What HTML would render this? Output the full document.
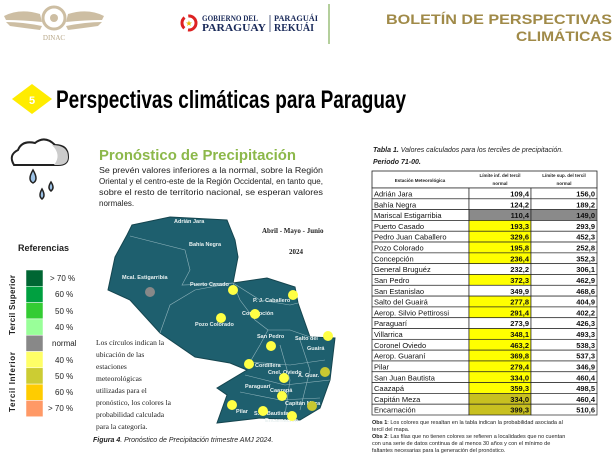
<!DOCTYPE html>
<html><head><meta charset="utf-8"><style>
html,body{margin:0;padding:0;background:#fff;}
svg{display:block;font-family:"Liberation Sans",sans-serif;}
</style></head><body>
<svg width="616" height="458" viewBox="0 0 616 458" xmlns="http://www.w3.org/2000/svg">
<rect width="616" height="458" fill="#fff"/>
<g fill="#c8b89a" opacity="0.9">
<path d="M4 16 Q20 8 40 14 L42 22 Q22 20 6 20 Z"/>
<path d="M6 22 Q22 22 42 26 L40 30 Q24 28 10 26 Z"/>
<path d="M104 16 Q88 8 68 14 L66 22 Q86 20 102 20 Z"/>
<path d="M102 22 Q86 22 66 26 L68 30 Q84 28 98 26 Z"/>
<circle cx="54" cy="18" r="11" fill="none" stroke="#c8b89a" stroke-width="3"/>
<circle cx="54" cy="18" r="4"/>
</g>
<text x="54" y="40" font-family="Liberation Serif" font-size="7" fill="#b8a88a" text-anchor="middle">DINAC</text>
<circle cx="189" cy="23" r="7" fill="none" stroke="#d22" stroke-width="3" stroke-dasharray="12 4"/>
<text x="189" y="26" font-size="8" fill="#e6b800" text-anchor="middle">★</text>
<text x="202" y="21" font-family="Liberation Serif" font-weight="bold" font-size="8" fill="#1a2a5a" textLength="56" lengthAdjust="spacingAndGlyphs">GOBIERNO DEL</text>
<text x="202" y="31" font-family="Liberation Serif" font-weight="bold" font-size="10" fill="#1a2a5a" textLength="64" lengthAdjust="spacingAndGlyphs">PARAGUAY</text>
<line x1="270" y1="15" x2="270" y2="32" stroke="#1a2a5a" stroke-width="0.7"/>
<text x="274" y="21" font-family="Liberation Serif" font-weight="bold" font-size="8" fill="#1a2a5a" textLength="44" lengthAdjust="spacingAndGlyphs">PARAGUÁI</text>
<text x="274" y="31" font-family="Liberation Serif" font-weight="bold" font-size="10" fill="#1a2a5a" textLength="40" lengthAdjust="spacingAndGlyphs">REKUÁI</text>
<line x1="329" y1="4" x2="329" y2="44" stroke="#9bbf7a" stroke-width="1.5"/>
<text x="612" y="24" font-weight="bold" font-size="14" fill="#a08a48" text-anchor="end" textLength="226" lengthAdjust="spacingAndGlyphs">BOLETÍN DE PERSPECTIVAS</text>
<text x="612" y="41" font-weight="bold" font-size="14" fill="#a08a48" text-anchor="end" textLength="96" lengthAdjust="spacingAndGlyphs">CLIMÁTICAS</text>
<polygon points="12,99 32,84 52,99 32,114" fill="#ffec00"/>
<text x="32" y="104" font-weight="bold" font-size="11" fill="#fff" text-anchor="middle">5</text>
<text x="56" y="108" font-weight="bold" font-size="25" fill="#000" textLength="350" lengthAdjust="spacingAndGlyphs">Perspectivas climáticas para Paraguay</text>
<g>
<path d="M14 165 Q8 155 18 150 Q22 140 35 143 Q45 135 55 145 Q68 145 68 157 Q68 165 58 165 Z" fill="#fff" stroke="#222" stroke-width="2"/>
<path d="M52 145 Q68 145 68 157 Q68 165 58 165 L54 165 Q62 155 52 145Z" fill="#ccc"/>
<path d="M33 170 Q27 180 33 183 Q39 180 33 170Z" fill="#9cc2e6" stroke="#222" stroke-width="1.5"/>
<path d="M51 182 Q47 188 51 191 Q55 188 51 182Z" fill="#9cc2e6" stroke="#222" stroke-width="1.5"/>
<path d="M42 189 Q38 196 42 199 Q46 196 42 189Z" fill="#9cc2e6" stroke="#222" stroke-width="1.5"/>
</g>
<text x="99" y="160" font-weight="bold" font-size="15" fill="#8cb84a" textLength="197" lengthAdjust="spacingAndGlyphs">Pronóstico de Precipitación</text>
<g font-size="8" fill="#222">
<text x="99" y="173" textLength="224" lengthAdjust="spacingAndGlyphs">Se prevén valores inferiores a la normal, sobre la Región</text>
<text x="99" y="184" textLength="224" lengthAdjust="spacingAndGlyphs">Oriental y el centro-este de la Región Occidental, en tanto que,</text>
<text x="99" y="195" textLength="224" lengthAdjust="spacingAndGlyphs">sobre el resto de territorio nacional, se esperan valores</text>
<text x="99" y="206">normales.</text>
</g>
<text x="18" y="251" font-weight="bold" font-size="9" fill="#222">Referencias</text>
<g stroke="#fff" stroke-width="0.5">
<rect x="26" y="270" width="17" height="16.3" fill="#006633"/>
<rect x="26" y="286.3" width="17" height="16.3" fill="#00a040"/>
<rect x="26" y="302.6" width="17" height="16.3" fill="#33cc33"/>
<rect x="26" y="318.9" width="17" height="16.3" fill="#99ff99"/>
<rect x="26" y="335.2" width="17" height="16.3" fill="#888888"/>
<rect x="26" y="351.5" width="17" height="16.3" fill="#ffff66"/>
<rect x="26" y="367.8" width="17" height="16.3" fill="#cccc33"/>
<rect x="26" y="384.1" width="17" height="16.3" fill="#ffcc00"/>
<rect x="26" y="400.4" width="17" height="16.3" fill="#ff9966"/>
</g>
<g font-size="8" fill="#222">
<text x="50" y="281">&gt; 70 %</text><text x="55" y="297">60 %</text><text x="55" y="314">50 %</text><text x="55" y="330">40 %</text>
<text x="52" y="346">normal</text><text x="55" y="363">40 %</text><text x="55" y="379">50 %</text><text x="55" y="395">60 %</text><text x="48" y="411">&gt; 70 %</text>
</g>
<text transform="translate(15,335) rotate(-90)" font-weight="bold" font-size="8" fill="#222" textLength="60">Tercil Superior</text>
<text transform="translate(15,412) rotate(-90)" font-weight="bold" font-size="8" fill="#222" textLength="60">Tercil Inferior</text>
<polygon points="132,225 170,217 227,220 235,240 238,257 233,283 267,278 295,287 298,303 310,337 335,338 330,380 320,408 300,420 260,418 217,423 227,395 217,388 247,370 230,363 195,357 160,333 130,300 108,290 115,257 127,235" fill="#1e5f6e" stroke="#15454f" stroke-width="1"/>
<g stroke="#8fb3bb" stroke-width="0.6" fill="none">
<path d="M130 236 L185 250 L190 270 L182 285 L233 283"/>
<path d="M160 333 L170 305 L195 290 L233 283 L240 300 L255 320 L268 330 L260 345 L250 362"/>
<path d="M233 283 L260 300 L290 305 L298 303"/>
<path d="M268 330 L290 330 L310 337"/><path d="M250 362 L290 365 L325 360"/>
<path d="M245 375 L285 385 L330 380"/><path d="M240 392 L280 400 L320 398"/>
<path d="M280 345 L290 380 L285 415"/><path d="M300 340 L310 370 L300 410"/>
</g>
<g font-size="5.5" font-weight="bold" fill="#e8f0f0">
<text x="174" y="223">Adrián Jara</text><text x="189" y="246">Bahía Negra</text>
<text x="122" y="279">Mcal. Estigarribia</text><text x="190" y="286">Puerto Casado</text>
<text x="253" y="302">P. J. Caballero</text><text x="242" y="315">Concepción</text>
<text x="195" y="326">Pozo Colorado</text><text x="257" y="338">San Pedro</text>
<text x="295" y="340">Salto del</text><text x="307" y="350">Guairá</text>
<text x="255" y="367">Cordillera</text><text x="268" y="374">Cnel. Oviedo</text>
<text x="298" y="377">A. Guar.</text><text x="245" y="388">Paraguarí</text>
<text x="270" y="392">Caazapá</text><text x="285" y="405">Capitán Meza</text>
<text x="236" y="413">Pilar</text><text x="254" y="415">S. J. Bautista</text><text x="265" y="422">Encarnación</text>
</g>
<g fill="#ffff44">
<circle cx="150" cy="292" r="5" fill="#888"/>
<circle cx="233" cy="290" r="5"/><circle cx="293" cy="295" r="5"/><circle cx="255" cy="314" r="5"/>
<circle cx="221" cy="318" r="5"/><circle cx="328" cy="336" r="5"/><circle cx="271" cy="346" r="5"/>
<circle cx="249" cy="364" r="5"/><circle cx="325" cy="372" r="5" fill="#c8c832"/><circle cx="284" cy="378" r="5"/>
<circle cx="282" cy="396" r="5"/><circle cx="312" cy="406" r="5" fill="#c8c832"/><circle cx="232" cy="405" r="5"/>
<circle cx="263" cy="411" r="5"/><circle cx="292" cy="416" r="5"/>
</g>
<g font-family="Liberation Serif" font-weight="bold" font-size="7" fill="#222">
<text x="262" y="233">Abril  - Mayo - Junio</text><text x="289" y="254">2024</text>
</g>
<g font-family="Liberation Serif" font-size="7.5" fill="#222">
<text x="96" y="345">Los círculos indican la</text><text x="96" y="357">ubicación de las</text>
<text x="96" y="369">estaciones</text><text x="96" y="381">meteorológicas</text>
<text x="96" y="393">utilizadas para el</text><text x="96" y="405">pronóstico, los colores la</text>
<text x="96" y="417">probabilidad calculada</text><text x="96" y="429">para la categoría.</text>
</g>
<text x="93" y="442" font-size="7" font-style="italic" fill="#222"><tspan font-weight="bold">Figura 4</tspan>. Pronóstico de Precipitación trimestre AMJ 2024.</text>
<text x="373" y="152" font-size="7" font-style="italic" fill="#222"><tspan font-weight="bold">Tabla 1.</tspan> Valores calculados para los terciles de precipitación.</text>
<text x="373" y="164" font-size="7" font-style="italic" font-weight="bold" fill="#222">Periodo 71-00.</text>
<rect x="372" y="171" width="225" height="17" fill="#fff" stroke="#222" stroke-width="0.8"/>
<text x="420" y="182" font-size="4.5" font-weight="bold" text-anchor="middle" fill="#222">Estación Meteorológica</text>
<text x="500" y="177" font-size="4.5" font-weight="bold" text-anchor="middle" fill="#222">Límite inf. del tercil</text>
<text x="500" y="185" font-size="4.5" font-weight="bold" text-anchor="middle" fill="#222">normal</text>
<text x="564" y="177" font-size="4.5" font-weight="bold" text-anchor="middle" fill="#222">Límite sup. del tercil</text>
<text x="564" y="185" font-size="4.5" font-weight="bold" text-anchor="middle" fill="#222">normal</text>
<g id="rows" font-size="7.5" fill="#111"></g>
<g font-size="5.5" fill="#222">
<text x="372" y="424"><tspan font-weight="bold">Obs 1</tspan>: Los colores que resaltan en la tabla indican la probabilidad asociada al</text>
<text x="372" y="431">tercil del mapa.</text>
<text x="372" y="438"><tspan font-weight="bold">Obs 2</tspan>: Las filas que no tienen colores se refieren a localidades que no cuentan</text>
<text x="372" y="445">con una serie de datos continua de al menos 30 años y con el mínimo de</text>
<text x="372" y="452">faltantes necesarias para la generación del pronóstico.</text>
</g>
</svg>
<script>
var d=[["Adrián Jara","109,4","156,0",""],["Bahía Negra","124,2","189,2",""],["Mariscal Estigarribia","110,4","149,0","g"],["Puerto Casado","193,3","293,9","y"],["Pedro Juan Caballero","329,6","452,3","y"],["Pozo Colorado","195,8","252,8","y"],["Concepción","236,4","352,3","y"],["General Bruguéz","232,2","306,1",""],["San Pedro","372,3","462,9","y"],["San Estanislao","349,9","468,6",""],["Salto del Guairá","277,8","404,9","y"],["Aerop. Silvio Pettirossi","291,4","402,2","y"],["Paraguarí","273,9","426,3",""],["Villarrica","348,1","493,3","y"],["Coronel Oviedo","463,2","538,3","y"],["Aerop. Guaraní","369,8","537,3","y"],["Pilar","279,4","346,9","y"],["San Juan Bautista","334,0","460,4","y"],["Caazapá","359,3","498,5","y"],["Capitán Meza","334,0","460,4","o"],["Encarnación","399,3","510,6","o"]];
var g=document.getElementById("rows"),h=(415-188)/d.length,s="";
d.forEach(function(r,i){var y=188+i*h;
var c1=r[3]=="y"?"#ffff00":r[3]=="o"?"#c8c020":r[3]=="g"?"#8a8a8a":"#fff";
var c2=r[3]=="g"?"#8a8a8a":"#fff";
s+='<rect x="372" y="'+y+'" width="97" height="'+h+'" fill="#fff" stroke="#222" stroke-width="0.7"/>';
s+='<rect x="469" y="'+y+'" width="62" height="'+h+'" fill="'+c1+'" stroke="#222" stroke-width="0.7"/>';
s+='<rect x="531" y="'+y+'" width="66" height="'+h+'" fill="'+c2+'" stroke="#222" stroke-width="0.7"/>';
s+='<text x="374" y="'+(y+h-2.3)+'">'+r[0]+'</text>';
s+='<text x="529" y="'+(y+h-2.3)+'" text-anchor="end" font-weight="bold">'+r[1]+'</text>';
s+='<text x="595" y="'+(y+h-2.3)+'" text-anchor="end" font-weight="bold">'+r[2]+'</text>';});
g.innerHTML=s;
</script>
</body></html>
